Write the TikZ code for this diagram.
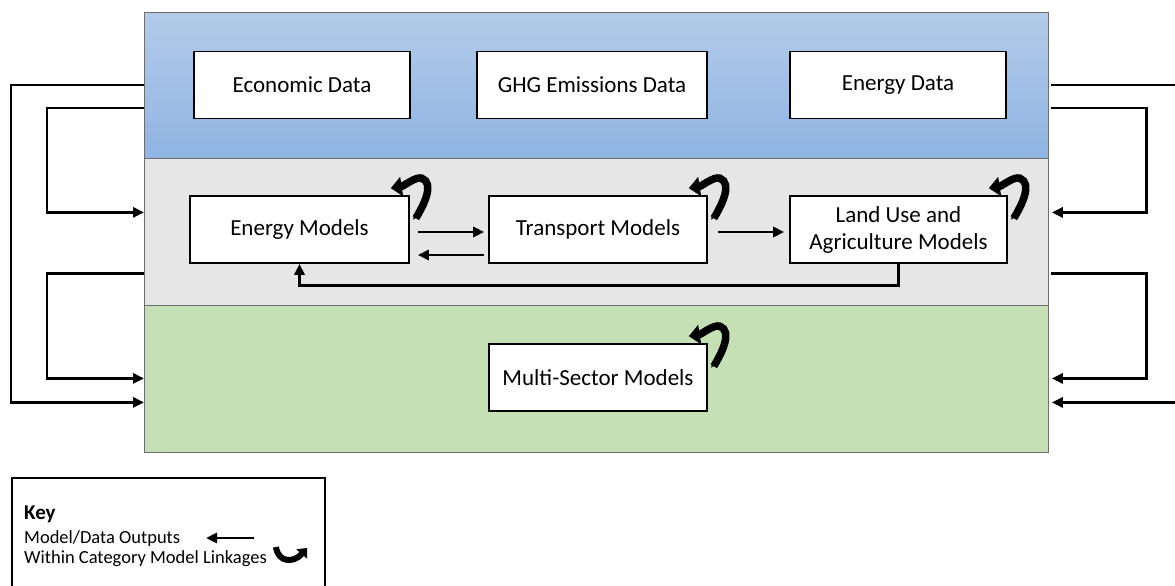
\documentclass[tikz,border=0pt]{standalone}
\usepackage{fontspec}
\setmainfont{Carlito}
\usetikzlibrary{arrows.meta,calc}
\definecolor{bluetop}{RGB}{180,203,234}
\definecolor{bluebot}{RGB}{142,180,226}
\definecolor{midgray}{RGB}{230,230,230}
\definecolor{lgreen}{RGB}{197,224,180}
\definecolor{edgegray}{RGB}{110,110,110}
\newcommand{\curlat}[1]{%
  \begin{scope}[shift={(#1)}]
    \draw[curl] (6,23) .. controls (14,10) and (25,-12) .. (12,-17) .. controls (6,-19) and (-6,-9) .. (-19,-7);
    \fill (3,24.5) -- (10,21) -- (14,12) -- (8,12) -- cycle;
  \end{scope}}
\begin{document}
\begin{tikzpicture}[x=1pt,y=-1pt,
  panel/.style={draw=edgegray, line width=0.8pt, minimum width=904pt, minimum height=147pt, inner sep=0pt, anchor=north west},
  box/.style={draw=black, line width=1.6pt, fill=white, inner sep=0pt, minimum height=67pt, font=\fontsize{23}{27}\selectfont, align=center},
  conn/.style={line width=2.8pt, -{Triangle[length=11pt,width=10pt]}},
  plain/.style={line width=2.8pt},
  curl/.style={line width=7.5pt, -{Triangle[length=11pt,width=19pt]}},
  keytext/.style={anchor=base west, inner sep=0pt, font=\fontsize{18.5}{22}\selectfont},
]
\useasboundingbox (0,0) rectangle (1175,586);
\fill[white] (0,0) rectangle (1175,586);
% panels
\node[panel, top color=bluetop, bottom color=bluebot] (top) at (144,12) {};
\node[panel, fill=midgray] (mid) at (144,158) {};
\node[panel, fill=lgreen] (bot) at (144,305) {};
% data boxes
\node[box, minimum width=216pt] (ed) at (302,85) {Economic Data};
\node[box, minimum width=230pt] (ghg) at (592,85) {GHG Emissions Data};
\node[box, minimum width=216pt] (end) at (898,85) {Energy Data};
% model boxes
\node[box, minimum width=219pt] (em) at (299.5,229.5) {Energy Models};
\node[box, minimum width=218pt] (tm) at (598,229.5) {Transport Models};
\node[box, minimum width=217pt] (lu) at (898.5,229.5) {Land Use and\\Agriculture Models};
\node[box, minimum width=218pt] (ms) at (598,377.5) {Multi-Sector Models};
% within-row arrows
\draw[conn] ([shift={(8,2.5)}]em.east) -- ([shift={(-4,2.5)}]tm.west);
\draw[conn] ([shift={(-4,25.5)}]tm.west) -- ([shift={(8,25.5)}]em.east);
\draw[conn] ([shift={(10,2.5)}]tm.east) -- ([shift={(-5,2.5)}]lu.west);
\draw[conn] (lu.south) -- ++(0,22) -| (em.south);
% curls
\curlat{em.north east}
\curlat{tm.north east}
\curlat{lu.north east}
\curlat{ms.north east}
% left connectors
\draw[conn] ([shift={(0,-1)}]top.west) -- ++(-133,0) |- ([shift={(0,23.5)}]bot.west);
\draw[conn] ([shift={(0,22)}]top.west) -- ++(-97,0) |- ([shift={(0,-19.5)}]mid.west);
\draw[conn] ([shift={(0,41.5)}]mid.west) -- ++(-97,0) |- ([shift={(0,-0.5)}]bot.west);
% right connectors
\draw[plain] ([shift={(2,-1)}]top.east) -- ++(140,0);
\draw[conn] ([shift={(140,23.5)}]bot.east) -- ([shift={(3,23.5)}]bot.east);
\draw[conn] ([shift={(2,22)}]top.east) -- ++(96,0) |- ([shift={(3,-19.5)}]mid.east);
\draw[conn] ([shift={(2,41.5)}]mid.east) -- ++(96,0) |- ([shift={(3,-0.5)}]bot.east);
% key
\node[draw=black, line width=1.6pt, anchor=north west, minimum width=313pt, minimum height=140pt, inner sep=0pt] (key) at (11,477) {};
\node[keytext, font=\fontsize{21}{24}\selectfont\bfseries] (kk) at (24,519) {Key};
\node[keytext] (k1) at (24,543) {Model/Data Outputs};
\node[keytext] (k2) at (24,563) {Within Category Model Linkages};
\coordinate (ka) at (254,538);
\coordinate (kb) at (206,538);
\draw[conn] (ka) -- (kb);
\coordinate (ua) at (276,547);
\coordinate (ub) at (307,548);
\draw[line width=6pt, -{Triangle[length=8pt,width=14pt]}] (ua) .. controls (278,563) and (294,563) .. (ub);
\end{tikzpicture}
\end{document}
